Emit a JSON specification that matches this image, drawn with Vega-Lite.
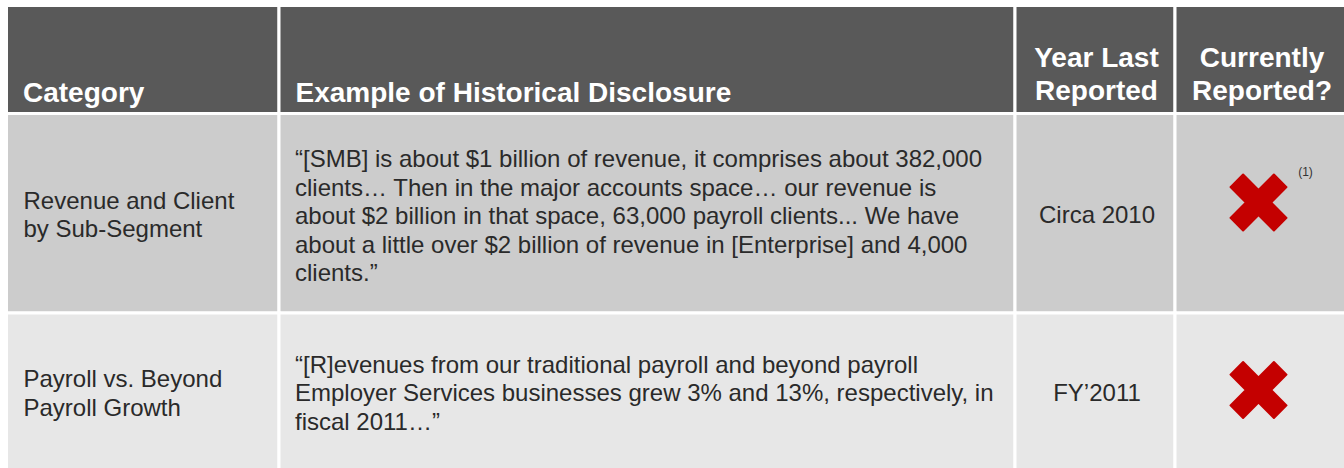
{
  "$schema": "https://vega.github.io/schema/vega-lite/v6.json",
  "width": 1344,
  "height": 468,
  "autosize": {"type": "fit", "contains": "padding"},
  "padding": 0,
  "background": "#ffffff",
  "config": {"view": {"stroke": null}, "text": {"font": "Liberation Sans"}},
  "datasets": {
    "header": [
      {"c": 0, "label": "Category"},
      {"c": 1, "label": "Example of Historical Disclosure"},
      {"c": 2, "label": "Year Last\nReported"},
      {"c": 3, "label": "Currently\nReported?"}
    ],
    "rows": [
      {"r": 1, "category": "Revenue and Client\nby Sub-Segment", "example": "“[SMB] is about $1 billion of revenue, it comprises about 382,000\nclients… Then in the major accounts space… our revenue is\nabout $2 billion in that space, 63,000 payroll clients... We have\nabout a little over $2 billion of revenue in [Enterprise] and 4,000\nclients.”", "year": "Circa 2010", "reported": "No", "note": "(1)"},
      {"r": 2, "category": "Payroll vs. Beyond\nPayroll Growth", "example": "“[R]evenues from our traditional payroll and beyond payroll\nEmployer Services businesses grew 3% and 13%, respectively, in\nfiscal 2011…”", "year": "FY’2011", "reported": "No", "note": ""}
    ]
  },
  "layer": [
    {
      "data": {"name": "header"},
      "transform": [{"calculate": "datum.c + 1", "as": "c1"}],
      "mark": {"type": "rect", "fill": "#595959", "stroke": "#ffffff", "strokeWidth": 3},
      "encoding": {
        "x": {"field": "c", "type": "quantitative", "scale": {"domain": [0, 1, 2, 3, 4], "range": [6.5, 279, 1015, 1175, 1346], "nice": false, "zero": false}, "axis": null},
        "x2": {"field": "c1"},
        "y": {"datum": 0, "type": "quantitative", "scale": {"domain": [0, 1, 2, 3], "range": [5.5, 113.5, 313, 470], "nice": false, "zero": false}, "axis": null},
        "y2": {"datum": 1}
      }
    },
    {
      "data": {"name": "rows"},
      "transform": [
        {"fold": ["category", "example", "year", "reported"], "as": ["key", "val"]},
        {"calculate": "indexof(['category','example','year','reported'], datum.key)", "as": "c"},
        {"calculate": "datum.c + 1", "as": "c1"},
        {"calculate": "datum.r + 1", "as": "r1"}
      ],
      "mark": {"type": "rect", "stroke": "#ffffff", "strokeWidth": 3},
      "encoding": {
        "x": {"field": "c", "type": "quantitative", "axis": null},
        "x2": {"field": "c1"},
        "y": {"field": "r", "type": "quantitative", "axis": null},
        "y2": {"field": "r1"},
        "color": {"field": "r", "type": "ordinal", "scale": {"domain": [1, 2], "range": ["#cccccc", "#e7e7e7"]}, "legend": null}
      }
    },
    {
      "data": {"name": "header"},
      "transform": [{"filter": "datum.c < 2"}],
      "mark": {"type": "text", "align": "left", "baseline": "alphabetic", "dx": 16.5, "dy": -12, "fontSize": 28, "fontWeight": "bold", "color": "#ffffff", "lineHeight": 33, "lineBreak": "\n"},
      "encoding": {
        "x": {"field": "c", "type": "quantitative", "axis": null},
        "y": {"datum": 1, "type": "quantitative", "axis": null},
        "text": {"field": "label"}
      }
    },
    {
      "data": {"name": "header"},
      "transform": [{"filter": "datum.c >= 2"}, {"calculate": "datum.c + 0.5", "as": "cm"}],
      "mark": {"type": "text", "align": "center", "baseline": "alphabetic", "dx": 1.5, "dy": -46.5, "fontSize": 28, "fontWeight": "bold", "color": "#ffffff", "lineHeight": 33, "lineBreak": "\n"},
      "encoding": {
        "x": {"field": "cm", "type": "quantitative", "axis": null},
        "y": {"datum": 1, "type": "quantitative", "axis": null},
        "text": {"field": "label"}
      }
    },
    {
      "data": {"name": "rows"},
      "transform": [{"calculate": "datum.r + 0.5", "as": "rm"}],
      "mark": {"type": "text", "align": "left", "baseline": "middle", "dx": 17, "dy": -11.5, "fontSize": 24, "color": "#2a2a2a", "lineHeight": 28.5, "lineBreak": "\n"},
      "encoding": {
        "x": {"datum": 0, "type": "quantitative", "axis": null},
        "y": {"field": "rm", "type": "quantitative", "axis": null},
        "text": {"field": "category"}
      }
    },
    {
      "data": {"name": "rows"},
      "transform": [{"calculate": "datum.r + 0.5", "as": "rm"}],
      "mark": {"type": "text", "align": "left", "baseline": "middle", "dx": 16, "dy": {"expr": "1 - 13.5 * (length(split(datum.example, '\\n')) - 1)"}, "fontSize": 24, "color": "#2a2a2a", "lineHeight": 28.5, "lineBreak": "\n"},
      "encoding": {
        "x": {"datum": 1, "type": "quantitative", "axis": null},
        "y": {"field": "rm", "type": "quantitative", "axis": null},
        "text": {"field": "example"}
      }
    },
    {
      "data": {"name": "rows"},
      "transform": [{"calculate": "datum.r + 0.5", "as": "rm"}],
      "mark": {"type": "text", "align": "center", "baseline": "middle", "dx": 2, "dy": 2.5, "fontSize": 24, "color": "#2a2a2a"},
      "encoding": {
        "x": {"datum": 2.5, "type": "quantitative", "axis": null},
        "y": {"field": "rm", "type": "quantitative", "axis": null},
        "text": {"field": "year"}
      }
    },
    {
      "data": {"name": "rows"},
      "transform": [{"filter": "datum.note != ''"}, {"calculate": "datum.r + 0.5", "as": "rm"}],
      "mark": {"type": "point", "shape": "M-1,-0.55L-0.55,-1L0,-0.45L0.55,-1L1,-0.55L0.45,0L1,0.55L0.55,1L0,0.45L-0.55,1L-1,0.55L-0.45,0Z", "size": 3136, "filled": true, "fill": "#c40000", "stroke": "#c40000", "strokeWidth": 2, "strokeJoin": "round", "opacity": 1, "xOffset": -2, "yOffset": -10.75},
      "encoding": {
        "x": {"datum": 3.5, "type": "quantitative", "axis": null},
        "y": {"field": "rm", "type": "quantitative", "axis": null}
      }
    },
    {
      "data": {"name": "rows"},
      "transform": [{"filter": "datum.note == ''"}, {"calculate": "datum.r + 0.5", "as": "rm"}],
      "mark": {"type": "point", "shape": "M-1,-0.55L-0.55,-1L0,-0.45L0.55,-1L1,-0.55L0.45,0L1,0.55L0.55,1L0,0.45L-0.55,1L-1,0.55L-0.45,0Z", "size": 3136, "filled": true, "fill": "#c40000", "stroke": "#c40000", "strokeWidth": 2, "strokeJoin": "round", "opacity": 1, "xOffset": -2, "yOffset": -1.5},
      "encoding": {
        "x": {"datum": 3.5, "type": "quantitative", "axis": null},
        "y": {"field": "rm", "type": "quantitative", "axis": null}
      }
    },
    {
      "data": {"name": "rows"},
      "transform": [{"filter": "datum.note != ''"}, {"calculate": "datum.r + 0.5", "as": "rm"}],
      "mark": {"type": "text", "align": "center", "baseline": "middle", "dx": 45, "dy": -41, "fontSize": 12, "color": "#333333"},
      "encoding": {
        "x": {"datum": 3.5, "type": "quantitative", "axis": null},
        "y": {"field": "rm", "type": "quantitative", "axis": null},
        "text": {"field": "note"}
      }
    }
  ]
}
